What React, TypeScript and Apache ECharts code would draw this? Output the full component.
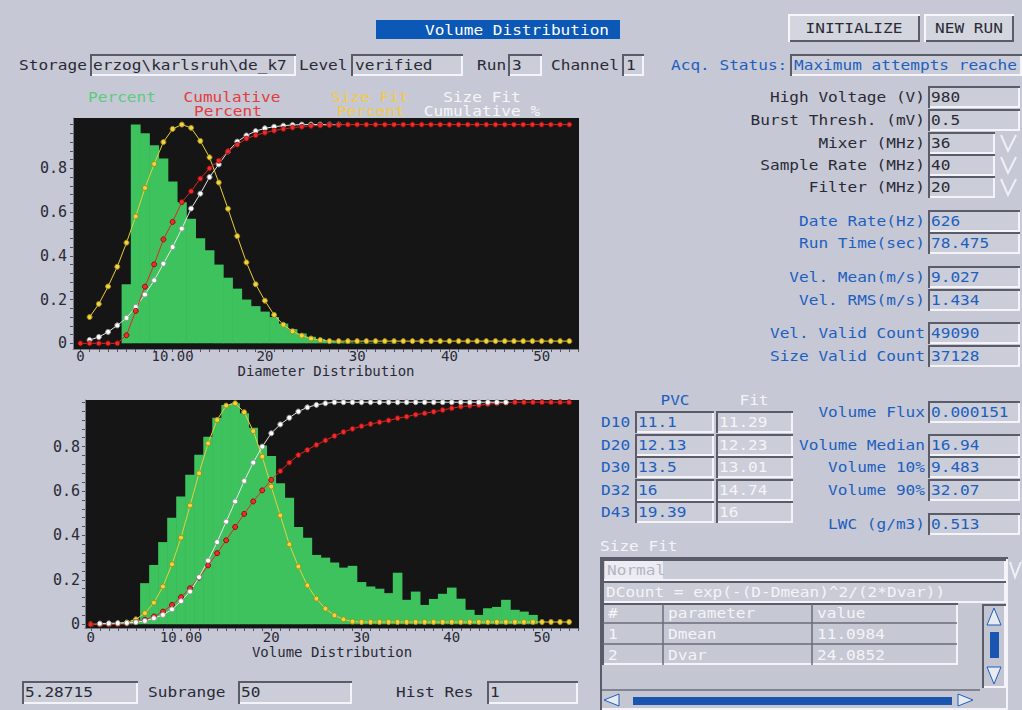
import React, { useEffect, useRef } from "react";
import * as echarts from "echarts";

// ---------- Top chart: Diameter Distribution ----------
const topHistStart = 5;
const topHistPercent = [0.27, 1.0, 0.96, 0.905, 0.845, 0.74, 0.645, 0.57, 0.48, 0.425, 0.36, 0.3, 0.25, 0.2, 0.17, 0.145, 0.12, 0.09, 0.065, 0.045, 0.03, 0.02, 0.012, 0.007, 0.004, 0.003, 0.002, 0.002, 0.001, 0.001];
const topCumStart = 0;
const topCumPercent = [0, 0, 0, 0, 0, 0.037, 0.148, 0.259, 0.361, 0.475, 0.555, 0.646, 0.695, 0.753, 0.8, 0.835, 0.878, 0.908, 0.936, 0.951, 0.963, 0.972, 0.98, 0.986, 0.99, 0.994, 0.996, 0.998, 0.999, 1, 1, 1, 1, 1, 1, 1, 1, 1, 1, 1, 1, 1, 1, 1, 1, 1, 1, 1, 1, 1, 1, 1, 1, 1];
const topFitStart = 1;
const topFitPercent = [0.12, 0.18, 0.26, 0.35, 0.46, 0.58, 0.71, 0.82, 0.92, 0.98, 1.0, 0.985, 0.925, 0.85, 0.735, 0.615, 0.49, 0.37, 0.27, 0.195, 0.13, 0.085, 0.055, 0.035, 0.022, 0.015, 0.01, 0.01, 0.01, 0.01, 0.01, 0.01, 0.01, 0.01, 0.01, 0.01, 0.01, 0.01, 0.01, 0.01, 0.01, 0.01, 0.01, 0.01, 0.01, 0.01, 0.01, 0.01, 0.01, 0.01, 0.01, 0.01, 0.01];
const topFitCumStart = 1;
const topFitCum = [0.015, 0.029, 0.052, 0.082, 0.116, 0.166, 0.223, 0.288, 0.364, 0.44, 0.524, 0.616, 0.684, 0.76, 0.818, 0.877, 0.922, 0.95, 0.97, 0.983, 0.99, 0.995, 0.998, 1, 1, 1, 1, 1];

// ---------- Bottom chart: Volume Distribution ----------
const botHistStart = 4;
const botHistPercent = [0.01, 0.02, 0.185, 0.267, 0.37, 0.48, 0.575, 0.673, 0.763, 0.845, 0.93, 0.988, 0.995, 0.95, 0.885, 0.805, 0.758, 0.635, 0.57, 0.438, 0.39, 0.312, 0.3, 0.278, 0.255, 0.263, 0.19, 0.17, 0.16, 0.14, 0.232, 0.11, 0.147, 0.087, 0.114, 0.137, 0.165, 0.115, 0.065, 0.042, 0.072, 0.078, 0.11, 0.065, 0.057, 0.042];
const botCumStart = 0;
const botCumPercent = [0, 0, 0, 0, 0.003, 0.01, 0.02, 0.035, 0.057, 0.087, 0.122, 0.162, 0.21, 0.265, 0.32, 0.378, 0.438, 0.497, 0.553, 0.603, 0.65, 0.69, 0.728, 0.762, 0.785, 0.808, 0.828, 0.848, 0.866, 0.88, 0.892, 0.902, 0.91, 0.918, 0.928, 0.935, 0.944, 0.95, 0.957, 0.965, 0.973, 0.98, 0.984, 0.987, 0.991, 0.995, 0.998, 1, 1, 1, 1, 1, 1, 1];
const botFitStart = 0;
const botFitPercent = [0, 0, 0, 0.003, 0.008, 0.022, 0.05, 0.097, 0.17, 0.27, 0.39, 0.535, 0.68, 0.815, 0.92, 0.985, 0.995, 0.955, 0.87, 0.755, 0.62, 0.49, 0.36, 0.26, 0.175, 0.115, 0.07, 0.04, 0.022, 0.012, 0.01, 0.01, 0.01, 0.01, 0.01, 0.01, 0.01, 0.01, 0.01, 0.01, 0.01, 0.01, 0.01, 0.01, 0.01, 0.01, 0.01, 0.01, 0.01, 0.01, 0.01, 0.01, 0.01, 0.01];
const botFitCumStart = 1;
const botFitCum = [0.003, 0.004, 0.005, 0.006, 0.009, 0.015, 0.027, 0.042, 0.067, 0.104, 0.147, 0.212, 0.287, 0.37, 0.462, 0.553, 0.645, 0.728, 0.8, 0.86, 0.9, 0.93, 0.958, 0.977, 0.988, 0.995, 1, 1, 1, 1, 1, 1, 1, 1, 1, 1, 1, 1, 1, 1, 1, 1, 1, 1, 1, 1];

// ---------- Axis ticks / labels ----------
const xLabelValues = [0, 10, 20, 30, 40, 50];
const yLabelValues = [0, 0.2, 0.4, 0.6, 0.8];
const binWidth = 1;

// ---------- Panel texts ----------
const settingsLabels = ["High Voltage (V)", "Burst Thresh. (mV)", "Mixer (MHz)", "Sample Rate (MHz)", "Filter (MHz)"];
const settingsValues = ["980", "0.5", "36", "40", "20"];
const statsLabels = ["Date Rate(Hz)", "Run Time(sec)", "Vel. Mean(m/s)", "Vel. RMS(m/s)", "Vel. Valid Count", "Size Valid Count"];
const statsValues = ["626", "78.475", "9.027", "1.434", "49090", "37128"];
const dRowLabels = ["D10", "D20", "D30", "D32", "D43"];
const dPvcValues = ["11.1", "12.13", "13.5", "16", "19.39"];
const dFitValues = ["11.29", "12.23", "13.01", "14.74", "16"];
const volumeLabels = ["Volume Flux", "Volume Median", "Volume 10%", "Volume 90%", "LWC (g/m3)"];
const volumeValues = ["0.000151", "16.94", "9.483", "32.07", "0.513"];
const fitParamNames = ["Dmean", "Dvar"];
const fitParamValues = ["11.0984", "24.0852"];

const FONT = '"DejaVu Sans Mono", "Liberation Mono", monospace';
const BG = "#c6c8d5";
const FACE = "#cbcdd8";
const DARK = "#2a2a36";
const BLUE = "#1d5fbf";
const WHITE = "#f4f4f8";
const GREEN = "#3ec25e";
const YELLOW = "#f0d43c";
const RED = "#e02626";

const pairs = (start: number, vals: number[]) => vals.map((v, i) => [start + i, v]);

function txt(x: number, y: number, text: string, fill: string, align: string = "left"): any {
  return {
    type: "text",
    x,
    y,
    scaleX: 1.15,
    silent: true,
    style: {
      text,
      fill,
      fontSize: 14,
      fontFamily: FONT,
      textAlign: align,
      textVerticalAlign: "middle",
      align,
      verticalAlign: "middle",
    },
  };
}

function sunken(x: number, y: number, w: number, h: number, face: string = FACE): any[] {
  return [
    { type: "rect", silent: true, shape: { x, y, width: w, height: h }, style: { fill: face } },
    { type: "polyline", silent: true, shape: { points: [[x + 1, y + h], [x + 1, y + 1], [x + w, y + 1]] }, style: { stroke: "#5a5c6a", lineWidth: 2 } },
    { type: "polyline", silent: true, shape: { points: [[x + 2, y + h - 1], [x + w - 1, y + h - 1], [x + w - 1, y + 2]] }, style: { stroke: "#f3f3f9", lineWidth: 2 } },
  ];
}

function raised(x: number, y: number, w: number, h: number): any[] {
  return [
    { type: "rect", silent: true, shape: { x, y, width: w, height: h }, style: { fill: "#d3d5df" } },
    { type: "polyline", silent: true, shape: { points: [[x + 1, y + h], [x + 1, y + 1], [x + w, y + 1]] }, style: { stroke: "#f6f6fb", lineWidth: 2 } },
    { type: "polyline", silent: true, shape: { points: [[x + 2, y + h - 1], [x + w - 1, y + h - 1], [x + w - 1, y + 2]] }, style: { stroke: "#5a5c6a", lineWidth: 2 } },
  ];
}

function vArrow(x: number, y: number): any {
  return { type: "polyline", silent: true, shape: { points: [[x + 2, y - 8], [x + 9, y + 8], [x + 17, y - 8]] }, style: { stroke: "#eef0f6", lineWidth: 2 } };
}

function buildGraphic(): any[] {
  const els: any[] = [];
  // Title
  els.push({ type: "rect", silent: true, shape: { x: 376, y: 20, width: 244, height: 19 }, style: { fill: "#0b58b6" } });
  els.push(txt(517, 30, "Volume Distribution", "#ffffff", "center"));
  // Buttons
  els.push(...raised(788, 14, 132, 28));
  els.push(txt(854, 28, "INITIALIZE", DARK, "center"));
  els.push(...raised(924, 14, 90, 28));
  els.push(txt(969, 28, "NEW RUN", DARK, "center"));
  // Header row
  const ry = 65;
  els.push(txt(19, ry, "Storage", DARK));
  els.push(...sunken(90, 54, 206, 22));
  els.push(txt(93, ry, "erzog\\karlsruh\\de_k7", DARK));
  els.push(txt(299, ry, "Level", DARK));
  els.push(...sunken(351, 54, 112, 22));
  els.push(txt(355, ry, "verified", DARK));
  els.push(txt(477, ry, "Run", DARK));
  els.push(...sunken(508, 54, 34, 22));
  els.push(txt(512, ry, "3", DARK));
  els.push(txt(551, ry, "Channel", DARK));
  els.push(...sunken(622, 54, 22, 22));
  els.push(txt(626, ry, "1", DARK));
  els.push(txt(671, ry, "Acq. Status:", BLUE));
  els.push(...sunken(790, 54, 232, 22));
  els.push(txt(794, ry, "Maximum attempts reache", BLUE));

  // Right settings
  const setY = [97, 120, 143, 165, 187];
  settingsLabels.forEach((l, i) => {
    const y = setY[i];
    els.push(txt(925, y, l, DARK, "right"));
    const drop = i >= 2;
    els.push(...sunken(928, y - 11, drop ? 67 : 92, 22));
    els.push(txt(931, y, settingsValues[i], DARK));
    if (drop) els.push(vArrow(999, y));
  });
  const statY = [221, 243, 277, 300, 333, 356];
  statsLabels.forEach((l, i) => {
    const y = statY[i];
    els.push(txt(925, y, l, BLUE, "right"));
    els.push(...sunken(928, y - 11, 92, 22));
    els.push(txt(931, y, statsValues[i], BLUE));
  });

  // D table
  els.push(txt(675, 400, "PVC", BLUE, "center"));
  els.push(txt(754, 400, "Fit", WHITE, "center"));
  const dY = [422, 445, 467, 490, 512];
  dRowLabels.forEach((l, i) => {
    const y = dY[i];
    els.push(txt(601, y, l, BLUE));
    els.push(...sunken(635, y - 11, 79, 22));
    els.push(txt(638, y, dPvcValues[i], BLUE));
    els.push(...sunken(716, y - 11, 77, 22));
    els.push(txt(719, y, dFitValues[i], WHITE));
  });
  const vY = [412, 445, 467, 490, 524];
  volumeLabels.forEach((l, i) => {
    const y = vY[i];
    els.push(txt(925, y, l, BLUE, "right"));
    els.push(...sunken(928, y - 11, 92, 22));
    els.push(txt(931, y, volumeValues[i], BLUE));
  });

  // Size Fit panel
  els.push(txt(600, 546, "Size Fit", WHITE));
  els.push(...sunken(600, 557, 408, 153, "#c4c6d2"));
  els.push(...sunken(602, 559, 404, 22, "#c9cbd7"));
  els.push({ type: "rect", silent: true, shape: { x: 605, y: 561, width: 58, height: 18 }, style: { fill: "#ececf2" } });
  els.push(txt(607, 570, "Normal", "#b2b4c2"));
  els.push({ type: "polyline", silent: true, shape: { points: [[1010, 562], [1015, 577], [1021, 562]] }, style: { stroke: "#eef0f6", lineWidth: 2 } });
  els.push(...sunken(602, 581, 404, 22, "#c9cbd7"));
  els.push(txt(606, 592, "DCount = exp(-(D-Dmean)^2/(2*Dvar))", WHITE));
  els.push(...sunken(602, 603, 356, 62, "#c6c8d4"));
  [623, 644].forEach((y) =>
    els.push({ type: "line", silent: true, shape: { x1: 603, y1: y, x2: 957, y2: y }, style: { stroke: "#6a6c7a", lineWidth: 1.5 } })
  );
  [663, 812].forEach((x) =>
    els.push({ type: "line", silent: true, shape: { x1: x, y1: 604, x2: x, y2: 665 }, style: { stroke: "#6a6c7a", lineWidth: 1.5 } })
  );
  els.push(txt(608, 613, "#", WHITE));
  els.push(txt(668, 613, "parameter", WHITE));
  els.push(txt(817, 613, "value", WHITE));
  fitParamNames.forEach((n, i) => {
    const y = 634 + i * 21;
    els.push(txt(608, y, String(i + 1), WHITE));
    els.push(txt(668, y, n, WHITE));
    els.push(txt(817, y, fitParamValues[i], WHITE));
  });
  els.push({ type: "line", silent: true, shape: { x1: 602, y1: 690, x2: 980, y2: 690 }, style: { stroke: "#6a6c7a", lineWidth: 1.5 } });
  // vertical scrollbar
  els.push(...sunken(982, 604, 24, 84, "#c3c5d1"));
  els.push({ type: "polygon", silent: true, shape: { points: [[994, 608], [987, 625], [1001, 625]] }, style: { fill: "#e8eaf2", stroke: BLUE, lineWidth: 1 } });
  els.push({ type: "rect", silent: true, shape: { x: 990, y: 632, width: 9, height: 26 }, style: { fill: "#1a56b0" } });
  els.push({ type: "polygon", silent: true, shape: { points: [[987, 667], [1001, 667], [994, 684]] }, style: { fill: "#e8eaf2", stroke: BLUE, lineWidth: 1 } });
  // horizontal scrollbar
  els.push({ type: "polygon", silent: true, shape: { points: [[604, 700], [619, 694], [619, 706]] }, style: { fill: "#e8eaf2", stroke: BLUE, lineWidth: 1 } });
  els.push({ type: "rect", silent: true, shape: { x: 633, y: 697, width: 319, height: 8 }, style: { fill: "#1a56b0" } });
  els.push({ type: "polygon", silent: true, shape: { points: [[958, 694], [958, 706], [973, 700]] }, style: { fill: "#e8eaf2", stroke: BLUE, lineWidth: 1 } });

  // Bottom-left row
  els.push(...sunken(22, 681, 116, 23));
  els.push(txt(25, 692, "5.28715", DARK));
  els.push(txt(148, 692, "Subrange", DARK));
  els.push(...sunken(238, 681, 114, 23));
  els.push(txt(241, 692, "50", DARK));
  els.push(txt(396, 692, "Hist Res", DARK));
  els.push(...sunken(487, 681, 91, 23));
  els.push(txt(490, 692, "1", DARK));

  // Top chart legend
  els.push(txt(122, 97, "Percent", "#5ccb7c", "center"));
  els.push(txt(232, 97, "Cumulative", "#e43c3c", "center"));
  els.push(txt(228, 111, "Percent", "#e43c3c", "center"));
  els.push(txt(370, 97, "Size Fit", "#f2c84a", "center"));
  els.push(txt(371, 111, "Percent", "#f2c84a", "center"));
  els.push(txt(482, 97, "Size Fit", "#f6f6f6", "center"));
  els.push(txt(482, 111, "Cumulative %", "#f6f6f6", "center"));
  return els;
}

function xAxisCfg(grid: number, min: number, max: number, name: string, labelMargin: number, nameGap: number): any {
  const ticks: number[] = [];
  for (let i = 0; i <= 54; i++) ticks.push(i);
  return {
    gridIndex: grid,
    type: "value",
    min,
    max,
    name,
    nameLocation: "middle",
    nameGap,
    nameMoveOverlap: false,
    nameTextStyle: { color: DARK, fontSize: 14, fontFamily: FONT },
    axisLine: { show: true, onZero: false, lineStyle: { color: "#7a7c8a", width: 1 } },
    axisTick: { show: true, customValues: ticks, length: 3, lineStyle: { color: "#50525e" } },
    axisLabel: {
      customValues: xLabelValues,
      formatter: (v: number) => (v === 10 ? "10.00" : String(v)),
      color: DARK,
      fontSize: 14,
      fontFamily: FONT,
      margin: labelMargin,
    },
    splitLine: { show: false },
  };
}

function yAxisCfg(grid: number, min: number, max: number, margin: number): any {
  const ticks: number[] = [];
  for (let i = 0; i <= 25; i++) ticks.push(Math.round(i * 4) / 100);
  return {
    gridIndex: grid,
    type: "value",
    min,
    max,
    axisLine: { show: true, onZero: false, lineStyle: { color: "#7a7c8a", width: 1 } },
    axisTick: { show: true, customValues: ticks, length: 3, lineStyle: { color: "#50525e" } },
    axisLabel: {
      customValues: yLabelValues,
      formatter: (v: number) => (v === 0 ? "0" : v.toFixed(1)),
      color: DARK,
      fontSize: 15,
      fontFamily: FONT,
      margin,
    },
    splitLine: { show: false },
  };
}

function lineSeries(name: string, idx: number, data: number[][], color: string, marker: string, border: string): any {
  return {
    name,
    type: "line",
    xAxisIndex: idx,
    yAxisIndex: idx,
    data,
    symbol: "circle",
    symbolSize: 5,
    showAllSymbol: true,
    lineStyle: { color, width: 1 },
    itemStyle: { color: marker, borderColor: border, borderWidth: 1 },
    emphasis: { disabled: true },
    silent: true,
    z: 3,
  };
}

function histSeries(name: string, idx: number, data: number[][]): any {
  return {
    name,
    type: "custom",
    xAxisIndex: idx,
    yAxisIndex: idx,
    data,
    encode: { x: 0, y: 1 },
    silent: true,
    z: 2,
    renderItem: (params: any, api: any) => {
      const x = api.value(0);
      const y = api.value(1);
      const p0 = api.coord([x - binWidth / 2, y]);
      const p1 = api.coord([x + binWidth / 2, 0]);
      return {
        type: "rect",
        shape: { x: p0[0] - 0.3, y: p0[1], width: p1[0] - p0[0] + 0.6, height: p1[1] - p0[1] },
        style: { fill: GREEN },
      };
    },
  };
}

function buildOption(): any {
  return {
    animation: false,
    backgroundColor: BG,
    grid: [
      { left: 73, top: 118, width: 506, height: 231, show: true, backgroundColor: "#151515", borderWidth: 0, containLabel: false, outerBoundsMode: "none" },
      { left: 85, top: 400, width: 494, height: 228, show: true, backgroundColor: "#151515", borderWidth: 0, containLabel: false, outerBoundsMode: "none" },
    ],
    xAxis: [
      xAxisCfg(0, -0.8, 54.05, "Diameter Distribution", 0, 15),
      xAxisCfg(1, -0.64, 54.1, "Volume Distribution", 2, 17),
    ],
    yAxis: [yAxisCfg(0, -0.026, 1.03, 6), yAxisCfg(1, -0.017, 1.01, 5)],
    series: [
      histSeries("Percent", 0, pairs(topHistStart, topHistPercent)),
      lineSeries("Size Fit Percent", 0, pairs(topFitStart, topFitPercent), "#e8cf3a", YELLOW, "#a48a1c"),
      lineSeries("Size Fit Cumulative %", 0, pairs(topFitCumStart, topFitCum), "#e6e6e6", "#ffffff", "#9a9a9a"),
      lineSeries("Cumulative Percent", 0, pairs(topCumStart, topCumPercent), RED, "#ee2c2c", "#8a1010"),
      histSeries("Percent", 1, pairs(botHistStart, botHistPercent)),
      lineSeries("Size Fit Percent", 1, pairs(botFitStart, botFitPercent), "#e8cf3a", YELLOW, "#a48a1c"),
      lineSeries("Cumulative Percent", 1, pairs(botCumStart, botCumPercent), RED, "#ee2c2c", "#8a1010"),
      lineSeries("Size Fit Cumulative %", 1, pairs(botFitCumStart, botFitCum), "#e6e6e6", "#ffffff", "#9a9a9a"),
    ],
    graphic: { elements: buildGraphic() },
  };
}

export default function App() {
  const ref = useRef<HTMLDivElement>(null);
  useEffect(() => {
    if (!ref.current) return;
    const chart = echarts.init(ref.current, null, { renderer: "svg" });
    chart.setOption(buildOption());
    return () => chart.dispose();
  }, []);
  return <div ref={ref} style={{ position: "absolute", left: 0, top: 0, width: 1022, height: 710 }} />;
}
